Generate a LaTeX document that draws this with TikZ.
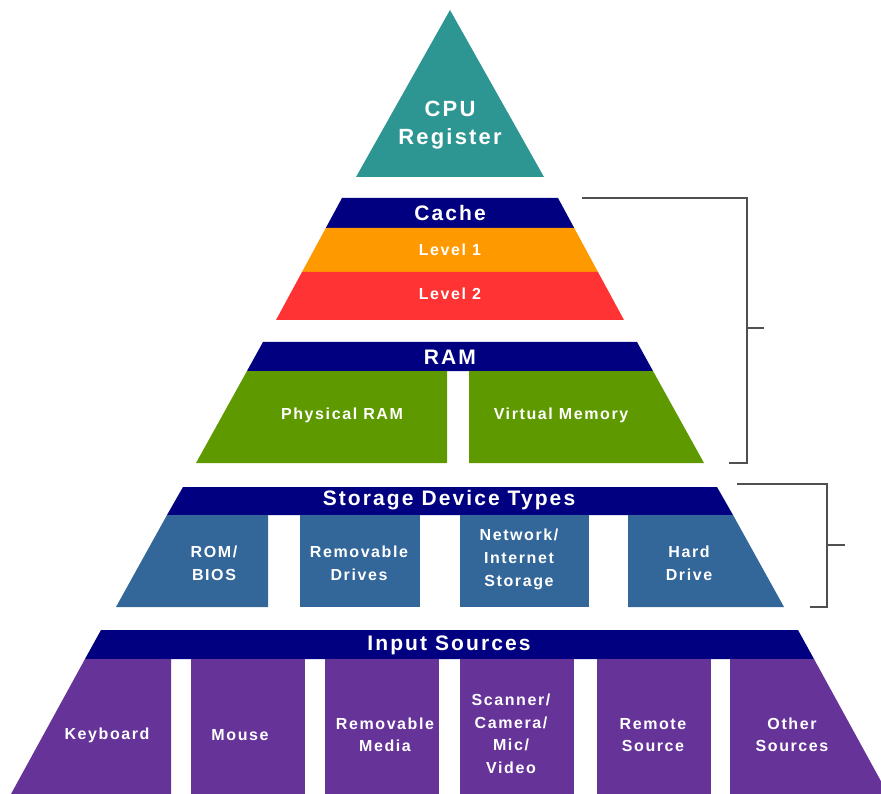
\documentclass[tikz,border=0pt]{standalone}
\usepackage{fontspec}
\setmainfont{Liberation Sans}
\newfontfamily\labfont[LetterSpace=10]{Liberation Sans}
\definecolor{cputeal}{HTML}{2E9692}
\definecolor{hdrnavy}{HTML}{000080}
\definecolor{lvlorange}{HTML}{FF9900}
\definecolor{lvlred}{HTML}{FF3333}
\definecolor{ramgreen}{HTML}{5F9900}
\definecolor{stblue}{HTML}{336699}
\definecolor{inpurple}{HTML}{663399}
\definecolor{brk}{HTML}{505050}
\begin{document}
\begin{tikzpicture}[x=1pt,y=-1pt,
  lbl/.style={text=white, inner sep=0pt, align=center,
    font=\labfont\bfseries\fontsize{16}{22.5}\selectfont},
  hdr/.style={lbl, font=\labfont\bfseries\fontsize{21}{24}\selectfont},
  cpulbl/.style={lbl, font=\labfont\bfseries\fontsize{22}{28}\selectfont},
  bracket/.style={draw=brk, line width=2pt}]
\useasboundingbox (0,0) rectangle (881,794);
\clip (0,0) rectangle (881,794);

% CPU register
\fill[cputeal] (450,10) -- (544,177) -- (356,177) -- cycle;
\node[cpulbl] (cpu) at (450,125) {CPU\\Register};

% Cache
\fill[hdrnavy] (342,198) -- (558,198) -- (574.2,228) -- (325.8,228) -- cycle;
\fill[lvlorange] (325.8,228) -- (574.2,228) -- (598,272) -- (302,272) -- cycle;
\fill[lvlred] (302,272) -- (598,272) -- (624,320) -- (276,320) -- cycle;
\node[hdr] (cache) at (450,213) {Cache};
\node[lbl] (lvl1) at (450,250) {Level 1};
\node[lbl] (lvl2) at (450,294) {Level 2};

% RAM
\fill[hdrnavy] (263,342) -- (637,342) -- (653,371) -- (247,371) -- cycle;
\fill[ramgreen] (247,371) -- (447,371) -- (447,463) -- (196,463) -- cycle;
\fill[ramgreen] (469,371) -- (653,371) -- (704,463) -- (469,463) -- cycle;
\node[hdr] (ram) at (450,357) {RAM};
\node[lbl] (physram) at (342,415) {Physical RAM};
\node[lbl] (virtmem) at (561,415) {Virtual Memory};

% Storage device types
\fill[hdrnavy] (183,487) -- (717,487) -- (733,515) -- (167,515) -- cycle;
\fill[stblue] (167,515) -- (268,515) -- (268,607) -- (116,607) -- cycle;
\fill[stblue] (300,515) rectangle (420,607);
\fill[stblue] (460,515) rectangle (589,607);
\fill[stblue] (628,515) -- (733,515) -- (784,607) -- (628,607) -- cycle;
\node[hdr] (storage) at (449,500) {Storage Device Types};
\node[lbl, font=\labfont\bfseries\fontsize{16}{23}\selectfont] (rom) at (214,563) {ROM/\\BIOS};
\node[lbl, font=\labfont\bfseries\fontsize{16}{23}\selectfont] (remdrv) at (359,563) {Removable\\Drives};
\node[lbl, font=\labfont\bfseries\fontsize{16}{23}\selectfont] (netstore) at (519,559) {Network/\\Internet\\Storage};
\node[lbl, font=\labfont\bfseries\fontsize{16}{23}\selectfont] (hdd) at (689,563) {Hard\\Drive};

% Input sources
\fill[hdrnavy] (101,630) -- (798,630) -- (814,659) -- (85,659) -- cycle;
\fill[inpurple] (85,659) -- (171,659) -- (171,794) -- (11,794) -- cycle;
\fill[inpurple] (191,659) rectangle (305,794);
\fill[inpurple] (325,659) rectangle (439,794);
\fill[inpurple] (460,659) rectangle (574,794);
\fill[inpurple] (597,659) rectangle (711,794);
\fill[inpurple] (730,659) -- (814,659) -- (888,794) -- (730,794) -- cycle;
\node[hdr] (input) at (449,645) {Input Sources};
\node[lbl] (kbd) at (107,735) {Keyboard};
\node[lbl] (mouse) at (240,735) {Mouse};
\node[lbl] (remmedia) at (385,735) {Removable\\Media};
\node[lbl] (scanner) at (511,734) {Scanner/\\Camera/\\Mic/\\Video};
\node[lbl] (remote) at (653,735) {Remote\\Source};
\node[lbl] (other) at (792,735) {Other\\Sources};

% Brackets grouping memory and storage
\coordinate (m1) at (582,198);
\coordinate (m2) at (747,198);
\coordinate (m3) at (747,463);
\coordinate (m4) at (729,463);
\coordinate (mmid) at (747,328);
\coordinate (mtip) at (764,328);
\draw[bracket] (m1) -- (m2) -- (m3) -- (m4);
\draw[bracket] (mmid) -- (mtip);

\coordinate (s1) at (737,484);
\coordinate (s2) at (827,484);
\coordinate (s3) at (827,607);
\coordinate (s4) at (810,607);
\coordinate (smid) at (827,545);
\coordinate (stip) at (845,545);
\draw[bracket] (s1) -- (s2) -- (s3) -- (s4);
\draw[bracket] (smid) -- (stip);
\end{tikzpicture}
\end{document}
